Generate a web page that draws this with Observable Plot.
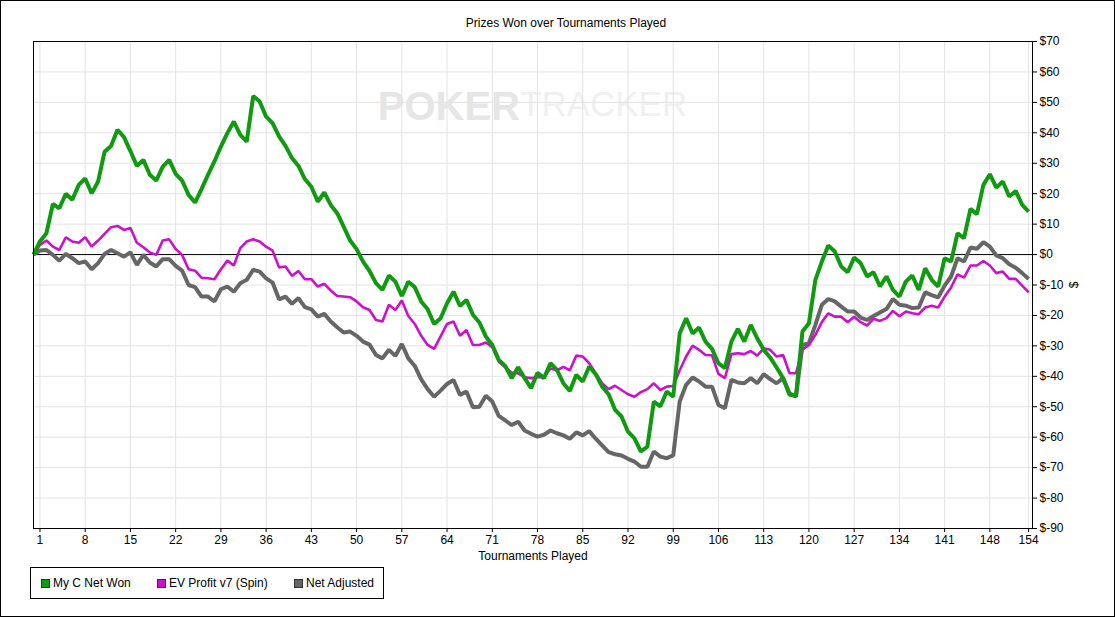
<!DOCTYPE html>
<html>
<head>
<meta charset="utf-8">
<script src="https://cdn.jsdelivr.net/npm/d3@7"></script>
<script src="https://cdn.jsdelivr.net/npm/@observablehq/plot@0.6"></script>
<style>
  html, body { margin: 0; padding: 0; background: white; }
  #wrap { position: relative; width: 1115px; height: 617px; box-sizing: border-box; border: 1px solid #000; background: #fff; font-family: "Liberation Sans", Arial, sans-serif; overflow: hidden; }
  #title { position: absolute; left: 0; width: 1130px; top: 15px; text-align: center; font-size: 12px; color: #000; }
  #chart { position: absolute; left: 0; top: 29px; }
  #legend { position: absolute; left: 29px; top: 566px; width: 352px; height: 30px; border: 1px solid #000; font-size: 12px; }
  .item { position: absolute; top: 0; height: 30px; line-height: 30px; white-space: nowrap; }
  .sw { position: absolute; top: 11px; width: 7px; height: 7px; border: 1px solid #333; }
  .lab { position: absolute; left: 12px; top: 0; }
</style>
</head>
<body>
<div id="wrap">
  <div id="title">Prizes Won over Tournaments Played</div>
  <div id="chart"></div>
  <div id="legend"></div>
</div>
<script>
const tournaments = d3.range(0, 155);
const netWon = [0,4.3,7,16.6,15.2,20,18,22.9,25,20.1,24,33.8,35.7,41,38.6,34,29.1,31.1,26.2,24.3,28.9,31.1,26.5,24.3,19.6,17.1,21.5,26.2,30.6,35.5,39.9,43.7,39.3,37.1,52.1,50.3,45.3,43.2,38.8,35.7,31.7,29.1,24.8,22.3,17.4,20.4,16.3,13.6,9.2,4.6,1.8,-2.3,-5.4,-9.4,-11.6,-6.9,-8.9,-13.6,-8.9,-10.7,-15.4,-18,-22.8,-20.9,-16,-12.2,-16.9,-14.9,-19.8,-22.3,-26.9,-29.7,-34.6,-36.6,-40.6,-37,-40.6,-43.9,-38.8,-40.6,-35.7,-37.9,-42.3,-44.8,-39.5,-41.7,-36.8,-39.3,-43.4,-45.9,-51,-53.2,-58.2,-60.4,-64.7,-63.1,-48.3,-49.9,-45,-46.7,-25.9,-20.9,-25.9,-24,-28.6,-31,-35.7,-37.3,-28.6,-24.4,-28.6,-23.1,-27.5,-31.3,-33.8,-37.1,-40.6,-46.1,-46.3,-25.3,-22.6,-8.3,-2.3,3.0,1.0,-3.9,-5.8,-1,-2.8,-7.2,-5.8,-10.5,-7.2,-11.6,-13.8,-8.9,-6.9,-11.6,-4.5,-8.3,-10.5,-1.2,-2.3,7,5.4,15,13.3,22.9,26.4,22,24,19.1,20.9,16.3,14.1];
const evProfit = [0,3.2,4.6,2.6,1.5,5.7,4.3,3.9,5.7,2.6,4.6,6.8,9.0,9.4,8.1,8.7,3.9,2.4,0.7,-0.1,4.6,5.0,1.8,-0.1,-4.8,-5.3,-7.6,-7.8,-8.1,-4.8,-2,-3.6,2.1,4.3,5.0,4.3,2.6,1.3,-4.2,-3.9,-7,-5.4,-8.1,-8.1,-10.5,-9.6,-11.8,-13.6,-13.8,-14.0,-15.4,-17.3,-18.2,-21.5,-22,-16.5,-18.2,-15.1,-20.2,-22.8,-26.7,-29.7,-31,-26.9,-22.8,-22,-26.7,-24.8,-29.7,-29.7,-28.9,-30.4,-35.2,-37,-38.8,-39,-40.3,-40.6,-40.3,-40.3,-37.4,-38,-36.9,-38,-33.2,-33.5,-35.7,-39,-42.3,-44.2,-43.1,-44.5,-45.9,-46.7,-45.2,-44.2,-42.3,-44.5,-43.4,-43.2,-38,-33.5,-29.9,-31.3,-33,-33.1,-39.2,-40.6,-32.7,-32.4,-32.7,-31.7,-33.2,-30.8,-31.3,-33.5,-33,-39,-39,-31.3,-29.7,-26.4,-22.2,-19.3,-20.4,-20.4,-22.2,-20.4,-22.2,-23.3,-21.1,-21.8,-20.9,-18.5,-20.3,-18.7,-19.3,-19.6,-17.4,-16.8,-17.4,-13.8,-10.8,-6.5,-7.6,-3.6,-3.6,-2.1,-3.6,-6.1,-5.6,-8,-8,-10.2,-12.4];
const netAdjusted = [0,1.3,1.5,-0.1,-2,0.2,-1.2,-2.8,-2.3,-4.8,-2.8,0.2,1.5,0.4,-0.7,0.7,-3.4,-0.1,-2.6,-3.9,-1.5,-1.5,-3.7,-5.3,-10,-10.7,-13.8,-13.8,-15.4,-11.4,-10.5,-12.2,-9.4,-8.3,-5,-5.6,-7.8,-9.2,-14.7,-13.8,-16.2,-14.3,-17.3,-18,-20.4,-19.5,-22,-23.9,-25.6,-25.3,-26.7,-28.6,-29.6,-33,-34.1,-31.3,-33.3,-29.4,-34.1,-36.6,-41,-44.2,-46.7,-44.7,-42.5,-41.2,-46.1,-45,-50.2,-50,-46.4,-48.3,-53,-54.5,-56,-54.9,-57.8,-58.9,-59.8,-59.2,-57.8,-58.7,-59.4,-60.5,-58.4,-59.4,-58,-60.5,-62.7,-64.9,-65.6,-66,-67.1,-68,-69.7,-69.7,-64.7,-66.4,-66.9,-66,-48.3,-42.8,-40.4,-41.7,-43.4,-43.4,-49.4,-50.5,-41.2,-42,-42.3,-40.6,-42.3,-39.3,-40.9,-42.3,-40.6,-45.6,-46.7,-29.7,-29.1,-23.1,-16.5,-14.6,-15.4,-17.1,-18.7,-18.7,-20.7,-21.5,-20.2,-19,-17.9,-14.6,-16.5,-16.8,-17.6,-17.4,-12.4,-13.3,-14.1,-10.2,-7.2,-1.2,-2.3,2.3,1.9,4.1,2.6,-0.3,-1.2,-3.2,-4.3,-6.1,-8];
const seriesNames = ["My C Net Won", "EV Profit v7 (Spin)", "Net Adjusted"];
const seriesColors = ["#109a10", "#cc10cc", "#666666"];
const xTicks = [1,8,15,22,29,36,43,50,57,64,71,78,85,92,99,106,113,120,127,134,141,148,154];
const yTicks = d3.range(-90, 71, 10);

const toRows = (vals) => tournaments.map((t, i) => ({t, v: vals[i]}));

const chart = Plot.plot({
  width: 1113,
  height: 533,
  marginTop: 11,
  marginLeft: 32,
  marginRight: 82,
  marginBottom: 35,
  x: {domain: [0, 154.6]},
  y: {domain: [-90, 70]},
  style: {fontFamily: "'Liberation Sans', Arial, sans-serif", fontSize: "12px", color: "#000", background: "white", overflow: "visible"},
  marks: [
    Plot.text(["POKER"], {frameAnchor: "top", dy: 50, dx: -13, textAnchor: "end", fontSize: 40, fontWeight: "bold", fill: "#e6e6e6"}),
    Plot.text(["TRACKER"], {frameAnchor: "top", dy: 50, dx: -13, textAnchor: "start", fontSize: 35, fontWeight: "normal", fill: "#f0f0f0"}),
    Plot.gridX(xTicks, {stroke: "#e3e3e3", strokeOpacity: 1}),
    Plot.gridY(yTicks, {stroke: "#e3e3e3", strokeOpacity: 1}),
    Plot.ruleY([0], {stroke: "#000", strokeWidth: 1}),
    Plot.line(toRows(netAdjusted), {x: "t", y: "v", stroke: seriesColors[2], strokeWidth: 4, strokeLinejoin: "miter", strokeLinecap: "butt"}),
    Plot.line(toRows(evProfit), {x: "t", y: "v", stroke: seriesColors[1], strokeWidth: 2.6, strokeLinejoin: "miter", strokeLinecap: "butt"}),
    Plot.line(toRows(netWon), {x: "t", y: "v", stroke: seriesColors[0], strokeWidth: 4, strokeLinejoin: "miter", strokeLinecap: "butt"}),
    Plot.frame({stroke: "#000"}),
    Plot.axisX(xTicks, {tickSize: 4, tickPadding: 3, label: "Tournaments Played", labelAnchor: "center", labelOffset: 31, labelArrow: "none", fontSize: 12}),
    Plot.axisY(yTicks, {anchor: "right", tickSize: 4, tickPadding: 3, tickFormat: d => "$" + d, label: "$", labelAnchor: "center", labelOffset: 45, labelArrow: "none", fontSize: 12})
  ]
});
document.getElementById("chart").appendChild(chart);

const legend = document.getElementById("legend");
const offsets = [10, 126, 263];
seriesNames.forEach((name, i) => {
  const item = document.createElement("div");
  item.className = "item";
  item.style.left = offsets[i] + "px";
  const sw = document.createElement("div");
  sw.className = "sw";
  sw.style.background = seriesColors[i];
  const lab = document.createElement("span");
  lab.className = "lab";
  lab.textContent = name;
  item.appendChild(sw);
  item.appendChild(lab);
  legend.appendChild(item);
});
</script>
</body>
</html>
